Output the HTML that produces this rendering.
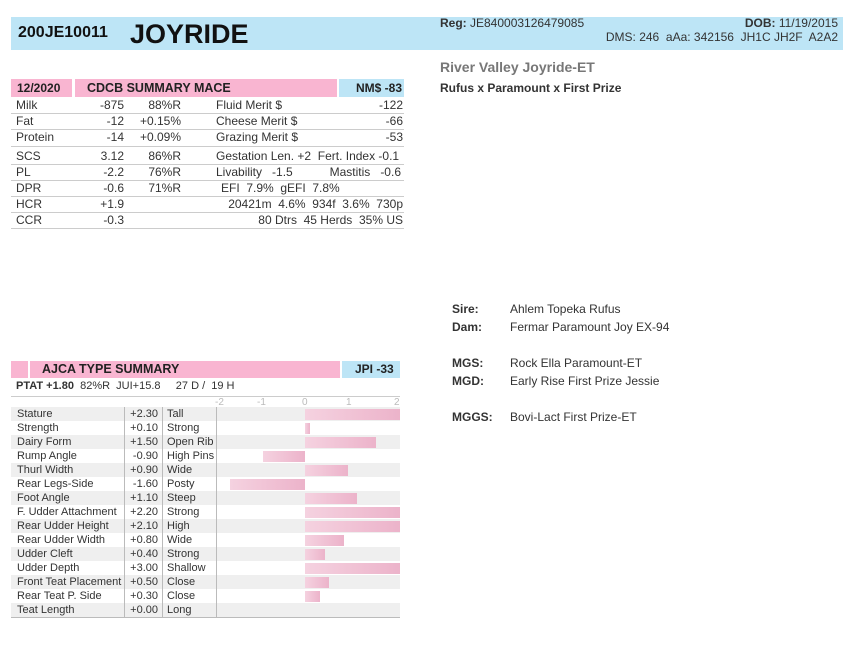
<!DOCTYPE html>
<html><head><meta charset="utf-8"><style>
body{margin:0;width:855px;height:647px;background:#fff;font-family:"Liberation Sans",Arial,sans-serif;color:#333;position:relative;overflow:hidden}
div,span{position:absolute;white-space:nowrap}
.t{font-size:12px;line-height:14px}
.r{text-align:right}
.hl{left:11px;width:393px;height:1px;background:#ccc}
.tr{left:11px;width:389px;height:14px;font-size:11px;line-height:14px;color:#333}
.tr span.v{right:242px}
.g{background:#efefef}
.bar{height:11px;top:1.5px;background:linear-gradient(90deg,#f5d2e0,#ecb3ca)}
b{font-weight:bold}
</style></head><body>
<div style="left:11px;top:17px;width:832px;height:33px;background:#bde5f6"></div>
<div style="left:18px;top:24px;font-size:16px;font-weight:bold;color:#111">200JE10011</div>
<div style="left:130px;top:19px;font-size:27px;font-weight:bold;color:#111">JOYRIDE</div>
<div class="t" style="left:440px;top:16px;color:#333"><b>Reg:</b> JE840003126479085</div>
<div class="t r" style="right:17px;top:16px"><b>DOB:</b> 11/19/2015</div>
<div class="t r" style="right:17px;top:30px">DMS: 246&nbsp; aAa: 342156&nbsp; JH1C JH2F&nbsp; A2A2</div>
<div style="left:440px;top:59px;font-size:14px;font-weight:bold;color:#777">River Valley Joyride-ET</div>
<div class="t" style="left:440px;top:81px;font-weight:bold;color:#333">Rufus x Paramount x First Prize</div>

<div style="left:11px;top:79px;width:61px;height:18px;background:#f9b5d1"></div>
<div style="left:75px;top:79px;width:262px;height:18px;background:#f9b5d1"></div>
<div style="left:339px;top:79px;width:65px;height:18px;background:#bde5f6"></div>
<div class="t" style="left:17px;top:81px;font-weight:bold;color:#222">12/2020</div>
<div class="t" style="left:87px;top:81px;font-weight:bold;color:#222;font-size:12.5px">CDCB SUMMARY MACE</div>
<div class="t r" style="right:453px;top:81px;font-weight:bold;color:#222">NM$ -83</div>

<div class="t" style="left:16px;top:98px">Milk</div><div class="t r" style="right:731px;top:98px">-875</div><div class="t r" style="right:674px;top:98px">88%R</div><div class="t" style="left:216px;top:98px">Fluid Merit $</div><div class="t r" style="right:452px;top:98px">-122</div>
<div class="hl" style="top:113px"></div>
<div class="t" style="left:16px;top:114px">Fat</div><div class="t r" style="right:731px;top:114px">-12</div><div class="t r" style="right:674px;top:114px">+0.15%</div><div class="t" style="left:216px;top:114px">Cheese Merit $</div><div class="t r" style="right:452px;top:114px">-66</div>
<div class="hl" style="top:129px"></div>
<div class="t" style="left:16px;top:130px">Protein</div><div class="t r" style="right:731px;top:130px">-14</div><div class="t r" style="right:674px;top:130px">+0.09%</div><div class="t" style="left:216px;top:130px">Grazing Merit $</div><div class="t r" style="right:452px;top:130px">-53</div>
<div class="hl" style="top:146px"></div>
<div class="t" style="left:16px;top:149px">SCS</div><div class="t r" style="right:731px;top:149px">3.12</div><div class="t r" style="right:674px;top:149px">86%R</div><div class="t" style="left:216px;top:149px">Gestation Len. +2&nbsp; Fert. Index -0.1</div>
<div class="hl" style="top:164px"></div>
<div class="t" style="left:16px;top:165px">PL</div><div class="t r" style="right:731px;top:165px">-2.2</div><div class="t r" style="right:674px;top:165px">76%R</div><div class="t" style="left:216px;top:165px">Livability&nbsp;&nbsp; -1.5</div><div class="t r" style="right:454px;top:165px">Mastitis&nbsp;&nbsp; -0.6</div>
<div class="hl" style="top:180px"></div>
<div class="t" style="left:16px;top:181px">DPR</div><div class="t r" style="right:731px;top:181px">-0.6</div><div class="t r" style="right:674px;top:181px">71%R</div><div class="t" style="left:221px;top:181px">EFI&nbsp; 7.9%&nbsp; gEFI&nbsp; 7.8%</div>
<div class="hl" style="top:196px"></div>
<div class="t" style="left:16px;top:197px">HCR</div><div class="t r" style="right:731px;top:197px">+1.9</div><div class="t r" style="right:452px;top:197px">20421m&nbsp; 4.6%&nbsp; 934f&nbsp; 3.6%&nbsp; 730p</div>
<div class="hl" style="top:212px"></div>
<div class="t" style="left:16px;top:213px">CCR</div><div class="t r" style="right:731px;top:213px">-0.3</div><div class="t r" style="right:452px;top:213px">80 Dtrs&nbsp; 45 Herds&nbsp; 35% US</div>
<div class="hl" style="top:228px"></div>

<div class="t" style="left:452px;top:302px;font-weight:bold">Sire:</div><div class="t" style="left:510px;top:302px">Ahlem Topeka Rufus</div>
<div class="t" style="left:452px;top:320px;font-weight:bold">Dam:</div><div class="t" style="left:510px;top:320px">Fermar Paramount Joy EX-94</div>
<div class="t" style="left:452px;top:356px;font-weight:bold">MGS:</div><div class="t" style="left:510px;top:356px">Rock Ella Paramount-ET</div>
<div class="t" style="left:452px;top:374px;font-weight:bold">MGD:</div><div class="t" style="left:510px;top:374px">Early Rise First Prize Jessie</div>
<div class="t" style="left:452px;top:410px;font-weight:bold">MGGS:</div><div class="t" style="left:510px;top:410px">Bovi-Lact First Prize-ET</div>

<div style="left:11px;top:361px;width:17px;height:17px;background:#f9b5d1"></div>
<div style="left:30px;top:361px;width:310px;height:17px;background:#f9b5d1"></div>
<div style="left:342px;top:361px;width:58px;height:17px;background:#bde5f6"></div>
<div class="t" style="left:42px;top:362px;font-weight:bold;color:#222;font-size:12.5px">AJCA TYPE SUMMARY</div>
<div class="t" style="left:355px;top:362px;font-weight:bold;color:#222">JPI -33</div>
<div style="left:16px;top:380px;font-size:11px;line-height:13px"><b>PTAT +1.80</b>&nbsp; 82%R&nbsp; JUI+15.8 &nbsp;&nbsp;&nbsp; 27 D /&nbsp; 19 H</div>
<div style="left:11px;top:396px;width:389px;height:1px;background:#ccc"></div>
<div style="left:215px;top:397px;font-size:10px;line-height:11px;color:#bbb">-2</div>
<div style="left:257px;top:397px;font-size:10px;line-height:11px;color:#bbb">-1</div>
<div style="left:302px;top:397px;font-size:10px;line-height:11px;color:#bbb">0</div>
<div style="left:346px;top:397px;font-size:10px;line-height:11px;color:#bbb">1</div>
<div style="left:394px;top:397px;font-size:10px;line-height:11px;color:#bbb">2</div>

<div class="tr g" style="top:407px"><span style="left:6px">Stature</span><span class="v">+2.30</span><span style="left:156px">Tall</span><div class="bar" style="left:294px;width:95px"></div></div>
<div class="tr" style="top:421px"><span style="left:6px">Strength</span><span class="v">+0.10</span><span style="left:156px">Strong</span><div class="bar" style="left:294px;width:5px"></div></div>
<div class="tr g" style="top:435px"><span style="left:6px">Dairy Form</span><span class="v">+1.50</span><span style="left:156px">Open Rib</span><div class="bar" style="left:294px;width:71px"></div></div>
<div class="tr" style="top:449px"><span style="left:6px">Rump Angle</span><span class="v">-0.90</span><span style="left:156px">High Pins</span><div class="bar" style="left:252px;width:42px"></div></div>
<div class="tr g" style="top:463px"><span style="left:6px">Thurl Width</span><span class="v">+0.90</span><span style="left:156px">Wide</span><div class="bar" style="left:294px;width:43px"></div></div>
<div class="tr" style="top:477px"><span style="left:6px">Rear Legs-Side</span><span class="v">-1.60</span><span style="left:156px">Posty</span><div class="bar" style="left:219px;width:75px"></div></div>
<div class="tr g" style="top:491px"><span style="left:6px">Foot Angle</span><span class="v">+1.10</span><span style="left:156px">Steep</span><div class="bar" style="left:294px;width:52px"></div></div>
<div class="tr" style="top:505px"><span style="left:6px">F. Udder Attachment</span><span class="v">+2.20</span><span style="left:156px">Strong</span><div class="bar" style="left:294px;width:95px"></div></div>
<div class="tr g" style="top:519px"><span style="left:6px">Rear Udder Height</span><span class="v">+2.10</span><span style="left:156px">High</span><div class="bar" style="left:294px;width:95px"></div></div>
<div class="tr" style="top:533px"><span style="left:6px">Rear Udder Width</span><span class="v">+0.80</span><span style="left:156px">Wide</span><div class="bar" style="left:294px;width:39px"></div></div>
<div class="tr g" style="top:547px"><span style="left:6px">Udder Cleft</span><span class="v">+0.40</span><span style="left:156px">Strong</span><div class="bar" style="left:294px;width:20px"></div></div>
<div class="tr" style="top:561px"><span style="left:6px">Udder Depth</span><span class="v">+3.00</span><span style="left:156px">Shallow</span><div class="bar" style="left:294px;width:95px"></div></div>
<div class="tr g" style="top:575px"><span style="left:6px">Front Teat Placement</span><span class="v">+0.50</span><span style="left:156px">Close</span><div class="bar" style="left:294px;width:24px"></div></div>
<div class="tr" style="top:589px"><span style="left:6px">Rear Teat P. Side</span><span class="v">+0.30</span><span style="left:156px">Close</span><div class="bar" style="left:294px;width:15px"></div></div>
<div class="tr g" style="top:603px"><span style="left:6px">Teat Length</span><span class="v">+0.00</span><span style="left:156px">Long</span></div>
<div style="left:124px;top:407px;width:1px;height:210px;background:#bbb"></div>
<div style="left:162px;top:407px;width:1px;height:210px;background:#bbb"></div>
<div style="left:216px;top:407px;width:1px;height:210px;background:#bbb"></div>
<div style="left:11px;top:617px;width:389px;height:1px;background:#bbb"></div>
</body></html>
